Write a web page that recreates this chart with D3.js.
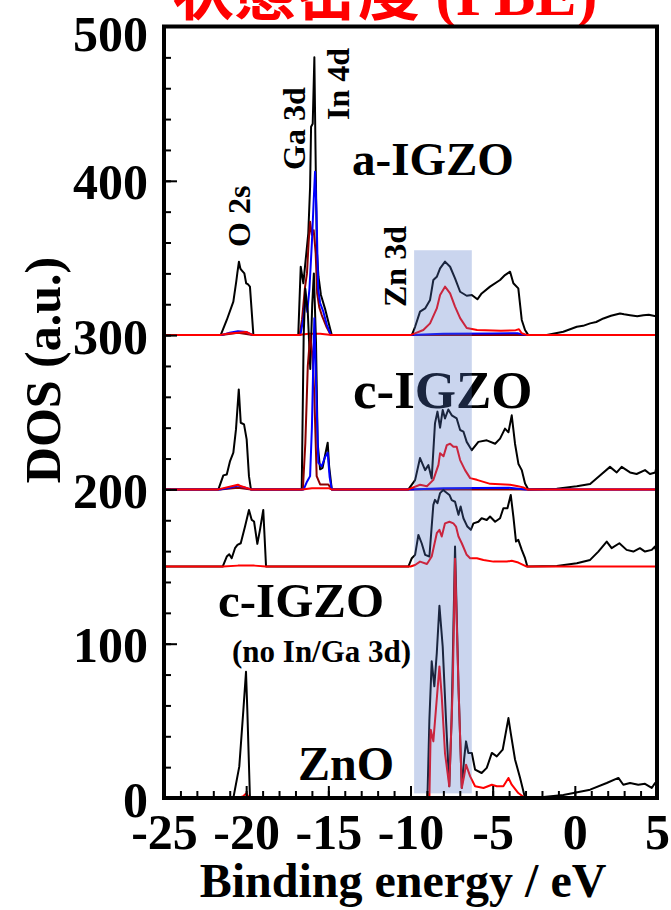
<!DOCTYPE html>
<html>
<head>
<meta charset="utf-8">
<script src="https://cdn.jsdelivr.net/npm/d3@7"></script>
<style>
  body { margin: 0; background: #fff; }
  text { font-family: "Liberation Serif", "Times New Roman", "Noto Sans CJK JP", serif; font-weight: bold; }
</style>
</head>
<body>
<svg id="chart" width="671" height="910"></svg>
<script>
// energy axis (eV) and DOS axis
const xDomain = [-25, 5]
const yDomain = [0, 500]
const xTickValues = [-25, -20, -15, -10, -5, 0, 5]
const yTickValues = [0, 100, 200, 300, 400, 500]

// vertical offset of every panel
const panelOffsets = { aIGZO: 300, cIGZO: 200, cIGZOnoD: 150, ZnO: 0 }

// shaded Zn 3d window
const bandE = [-9.78, -6.27]
const bandDOS = [3, 355]

// a-IGZO  [E, DOS]
const aIGZO_total = [[-25,0],[-21.55,0],[-21.18,9.8],[-20.78,21.7],[-20.6,35],[-20.54,40],[-20.44,47.6],[-20.35,43],[-20.27,42],[-20.11,40],[-20.0,33.6],[-19.9,33],[-19.77,31.4],[-19.56,0],
  [-16.83,0],[-16.68,44.3],[-16.52,33.6],[-16.38,48.7],[-16.22,66],[-16.11,96],[-16.05,135],[-15.95,137],[-15.85,180],[-15.78,120],[-15.7,55],[-15.6,38],[-15.45,26],[-15.2,17],[-15.0,8.6],[-14.79,0],
  [-9.92,0],[-9.72,5.4],[-9.42,15.2],[-9.11,17.3],[-8.81,22.8],[-8.61,35.7],[-8.40,37.8],[-8.20,43.2],[-7.90,47.6],[-7.59,44.3],[-7.29,36.8],[-6.98,28.1],[-6.58,25.5],[-6.27,26],[-5.93,23.2],[-5.67,27],[-5.16,31.4],[-4.55,35.7],[-4.25,38.9],[-3.94,41.1],[-3.74,33.6],[-3.44,30.3],[-3.23,9.8],[-3.03,3.3],[-2.83,0],
  [-1.71,0],[-0.70,2.2],[0.12,5.4],[0.5,6],[0.93,7.6],[1.3,8.5],[1.74,10.8],[2.2,12.5],[2.75,14],[3.0,13.5],[3.36,12.9],[3.8,12.2],[4.17,12.9],[4.5,13.2],[5,12]]
const aIGZO_Ga = [[-25,0],[-21.5,0],[-20.5,1.5],[-19.6,0],
  [-16.75,0],[-16.6,10],[-16.42,31],[-16.3,40],[-16.2,60],[-16.11,73.5],[-16.0,65],[-15.89,68],[-15.77,53],[-15.68,27],[-15.55,18],[-15.4,13],[-15.1,5],[-14.85,0],[5,0]]
const aIGZO_In = [[-25,0],[-21.5,0],[-21.0,1.5],[-20.5,2.5],[-20.0,2],[-19.6,0],
  [-16.7,0],[-16.5,12],[-16.38,25],[-16.28,15],[-16.15,30],[-16.0,60],[-15.9,85],[-15.81,105.8],[-15.72,80],[-15.62,30],[-15.5,20.8],[-15.3,15],[-15.1,7],[-14.85,0],
  [-10,0],[-8,0.8],[-5,1],[-3.5,1.2],[-3,0],[5,0]]
const aIGZO_Zn = [[-25,0],[-21.6,0],[-21.2,0.8],[-20.5,1.5],[-20.0,2],[-19.6,0],
  [-16.8,0],[-16.2,0.8],[-15.5,0.8],[-14.8,0],
  [-10.0,0],[-9.22,3.3],[-8.81,7.6],[-8.40,17.3],[-8.20,26],[-7.90,31.4],[-7.59,27],[-7.29,18.5],[-6.98,11],[-6.58,4.6],[-5.95,3.3],[-4.5,2.8],[-3.6,3.2],[-3.4,3.8],[-3.23,1.2],[-2.9,0],[5,0]]

// c-IGZO
const cIGZO_total = [[-25,0],[-21.69,0],[-21.39,9.1],[-21.18,9.7],[-20.98,18.4],[-20.78,23.8],[-20.62,38.9],[-20.45,64.8],[-20.33,43.2],[-20.13,42.1],[-19.97,32.4],[-19.83,8.6],[-19.71,0],
  [-16.62,0],[-16.5,100],[-16.4,130],[-16.25,115],[-16.1,78],[-15.98,120],[-15.88,140],[-15.75,95],[-15.65,30],[-15.5,13],[-15.35,14],[-15.2,22],[-15.04,30.3],[-14.95,15],[-14.79,0],
  [-10.13,0],[-9.72,6],[-9.42,20.3],[-9.11,12.5],[-8.91,15.7],[-8.71,7],[-8.51,42.8],[-8.36,50.4],[-8.2,40],[-8.04,51.4],[-7.9,46],[-7.7,51.8],[-7.49,48],[-7.19,46],[-6.98,38.5],[-6.78,37.5],[-6.58,30.8],[-6.27,25.4],[-5.87,30.8],[-5.36,31.8],[-4.85,29.6],[-4.55,32.9],[-4.25,39.4],[-4.04,37],[-3.84,48],[-3.64,29.6],[-3.43,16.4],[-3.23,12.5],[-3.03,3.8],[-2.83,0],
  [-1.1,0.5],[0.12,2],[0.93,3.5],[1.53,9],[2.14,14.6],[2.55,11],[2.85,14.6],[3.36,11],[3.76,10],[4.27,12.5],[4.57,10],[4.9,11],[5.0,17]]
const cIGZO_Ga = [[-25,0],[-21.6,0],[-20.5,1],[-19.7,0],
  [-16.55,0],[-16.4,30],[-16.25,80],[-16.1,100],[-15.95,85],[-15.85,60],[-15.71,8.6],[-15.5,3.2],[-15.0,3.2],[-14.8,0],[5,0]]
const cIGZO_In = [[-25,0],[-21.6,0],[-21,1],[-20.5,2.5],[-20.2,1.5],[-19.7,0],
  [-16.5,0],[-16.3,5],[-16.11,8.6],[-16.0,40],[-15.9,90],[-15.85,111],[-15.75,70],[-15.61,17.3],[-15.4,15],[-15.2,21],[-15.04,23.8],[-14.92,8],[-14.79,0],
  [-10,0],[-8,0.8],[-4,1],[-3,0],[5,0]]
const cIGZO_Zn = [[-25,0],[-21.7,0],[-20.5,3],[-20.3,2],[-19.7,0],
  [-16.6,0],[-16,0.8],[-15,0.8],[-14.8,0],
  [-10.13,0],[-9.42,3],[-9.0,2],[-8.61,6.2],[-8.30,15.9],[-8.2,23.5],[-7.99,21.5],[-7.79,28.7],[-7.59,29.6],[-7.39,27.6],[-7.19,27.6],[-6.98,19],[-6.68,12.5],[-6.37,7.3],[-5.96,6.2],[-5.15,3.6],[-3.94,3],[-3.53,2.2],[-3.13,1.3],[-2.9,0],[5,0]]

// c-IGZO without In/Ga 3d
const cIGZOnoD_total = [[-25,0],[-21.43,0],[-21.18,6.5],[-21.03,8],[-20.88,5.4],[-20.68,11.9],[-20.53,14],[-20.33,15.1],[-20.07,25.9],[-19.83,36.7],[-19.66,30.2],[-19.52,29.2],[-19.32,14.7],[-19.16,23.8],[-18.96,36.7],[-18.79,0],
  [-10.13,0],[-9.92,5.4],[-9.72,7.6],[-9.52,20.5],[-9.32,15.1],[-9.11,7.6],[-8.85,6.5],[-8.61,40],[-8.51,43.2],[-8.36,41],[-8.2,47.6],[-8.0,49.7],[-7.9,48.6],[-7.63,46.4],[-7.49,43],[-7.29,42],[-7.08,33.5],[-6.95,38.9],[-6.78,31.3],[-6.54,25.9],[-6.33,23.8],[-6.17,28],[-5.87,29],[-5.67,31.3],[-5.36,30.2],[-5.16,32.4],[-4.85,29],[-4.55,31.3],[-4.35,37.8],[-4.10,37.8],[-3.90,46.4],[-3.74,32.4],[-3.58,16.2],[-3.44,17.3],[-3.23,10.8],[-3.03,5.4],[-2.89,0],
  [-1.1,0.4],[0.12,2.2],[0.93,4.3],[1.43,9.7],[1.94,16.2],[2.24,11.9],[2.71,15.1],[3.15,10.8],[3.56,9.7],[3.96,11.9],[4.27,9.7],[4.68,10.8],[4.88,13],[5.0,7.6]]
const cIGZOnoD_Zn = [[-25,0],[-21.4,0],[-20.5,0.6],[-19.5,0.6],[-18.8,0],
  [-10.0,0],[-9.72,1],[-9.42,3.2],[-9.0,1.7],[-8.71,6.5],[-8.40,21.6],[-8.24,23.8],[-8.1,19.5],[-7.90,28],[-7.63,29],[-7.39,28],[-7.23,25.9],[-7.08,19.5],[-6.88,15.1],[-6.58,7.6],[-6.37,5.4],[-5.96,5.4],[-5.56,4.3],[-4.95,3.2],[-4.14,3.2],[-3.84,3.7],[-3.44,2.6],[-2.93,0],[5,0]]

// ZnO
const ZnO_total = [[-25,0],[-20.78,0],[-20.42,20.3],[-20.17,57],[-20.01,81.8],[-19.93,57],[-19.77,0],
  [-8.97,0],[-8.85,50.8],[-8.71,88.6],[-8.55,72.4],[-8.40,94],[-8.24,124.6],[-8.04,98],[-7.84,50.8],[-7.64,7.6],[-7.5,50.8],[-7.29,163],[-7.08,72.4],[-6.88,6.5],[-6.74,25],[-6.62,36.7],[-6.48,29.2],[-6.27,29.2],[-6.07,18.4],[-5.67,16.2],[-5.36,19.5],[-5.05,29.2],[-4.75,27],[-4.39,31.3],[-4.04,51.8],[-3.90,42],[-3.64,25],[-3.33,13],[-3.03,0],
  [-2.5,0],[-0.7,2],[0.93,5.4],[1.94,9.7],[2.65,13],[2.95,8.6],[3.36,9.7],[3.86,8.6],[4.27,9.2],[4.68,6.5],[4.88,9.7],[5.0,7]]
const ZnO_Zn = [[-25,0],[-20.6,0],[-20.2,1],[-20.0,3],[-19.8,0],
  [-8.85,0],[-8.77,44.3],[-8.61,36.7],[-8.24,85.3],[-8.10,66],[-7.90,29],[-7.64,7.6],[-7.43,72],[-7.29,155],[-7.08,72],[-6.88,6.5],[-6.74,14],[-6.62,21.6],[-6.37,14],[-6.07,7.6],[-5.56,6.5],[-5.05,8.6],[-4.75,7.6],[-4.35,7.6],[-4.04,13],[-3.84,8.6],[-3.44,3.2],[-3.03,0],[5,0]]

const colors = { total: "#000000", Ga: "#8b0000", In: "#0000ff", Zn: "#ff0000" }

const series = [
  { panel: "aIGZO", kind: "total", data: aIGZO_total },
  { panel: "aIGZO", kind: "Ga", data: aIGZO_Ga },
  { panel: "aIGZO", kind: "In", data: aIGZO_In },
  { panel: "aIGZO", kind: "Zn", data: aIGZO_Zn },
  { panel: "cIGZO", kind: "total", data: cIGZO_total },
  { panel: "cIGZO", kind: "Ga", data: cIGZO_Ga },
  { panel: "cIGZO", kind: "In", data: cIGZO_In },
  { panel: "cIGZO", kind: "Zn", data: cIGZO_Zn },
  { panel: "cIGZOnoD", kind: "total", data: cIGZOnoD_total },
  { panel: "cIGZOnoD", kind: "Zn", data: cIGZOnoD_Zn },
  { panel: "ZnO", kind: "total", data: ZnO_total },
  { panel: "ZnO", kind: "Zn", data: ZnO_Zn }
]

const svg = d3.select("#chart")
const plotL = 164, plotR = 657, plotT = 26.5, plotB = 798

const x = d3.scaleLinear().domain(xDomain).range([plotL, plotR])
const y = d3.scaleLinear().domain(yDomain).range([plotB, plotT])

svg.append("defs").append("clipPath").attr("id", "plotclip")
  .append("rect").attr("x", plotL).attr("y", plotT).attr("width", plotR - plotL).attr("height", plotB - plotT)

// title (cut off at the top of the picture)
svg.append("text")
  .attr("x", 172).attr("y", 15)
  .attr("font-size", 62).attr("fill", "#ff0000")
  .text("状態密度 (PBE)")

// curves
const curves = svg.append("g").attr("clip-path", "url(#plotclip)")
series.forEach(function(s) {
  const off = panelOffsets[s.panel]
  const line = d3.line()
    .x(function(d) { return x(d[0]) })
    .y(function(d) { return y(d[1] + off) })
  curves.append("path")
    .datum(s.data)
    .attr("d", line)
    .attr("fill", "none")
    .attr("stroke", colors[s.kind])
    .attr("stroke-width", 2)
    .attr("stroke-linejoin", "round")
})

// panel labels
const labels = svg.append("g")
labels.append("text").attr("x", 352).attr("y", 175).attr("font-size", 47).text("a-IGZO")
labels.append("text").attr("x", 353).attr("y", 408).attr("font-size", 53).text("c-IGZO")
labels.append("text").attr("x", 218).attr("y", 617).attr("font-size", 49).text("c-IGZO")
labels.append("text").attr("x", 232).attr("y", 662).attr("font-size", 31).text("(no In/Ga 3d)")
labels.append("text").attr("x", 298).attr("y", 780).attr("font-size", 48).text("ZnO")

// rotated orbital labels
const orb = [
  { t: "O 2s", x: 250, y: 247 },
  { t: "Ga 3d", x: 305, y: 170 },
  { t: "In 4d", x: 349, y: 120 },
  { t: "Zn 3d", x: 406, y: 307 }
]
labels.selectAll("text.orb").data(orb).join("text")
  .attr("class", "orb")
  .attr("font-size", 32)
  .attr("transform", function(d) { return "translate(" + d.x + "," + d.y + ") rotate(-90)" })
  .text(function(d) { return d.t })

// shaded window on top
svg.append("rect")
  .attr("x", x(bandE[0])).attr("width", x(bandE[1]) - x(bandE[0]))
  .attr("y", y(bandDOS[1])).attr("height", y(bandDOS[0]) - y(bandDOS[1]))
  .attr("fill", "rgb(83,121,201)").attr("fill-opacity", 0.31)

// axes
const yAxis = svg.append("g").attr("transform", "translate(" + plotL + ",0)")
  .call(d3.axisLeft(y).tickValues(yTickValues).tickSizeInner(-13).tickSizeOuter(0).tickPadding(16).tickFormat(d3.format("d")))
const yMinor = svg.append("g").attr("transform", "translate(" + plotL + ",0)")
  .call(d3.axisLeft(y).ticks(25).tickSizeInner(-7).tickSizeOuter(0).tickFormat(""))
const xAxis = svg.append("g").attr("transform", "translate(0," + plotB + ")")
  .call(d3.axisBottom(x).tickValues(xTickValues).tickSizeInner(-12).tickSizeOuter(0).tickPadding(15).tickFormat(function(d) { return String(d) }))
const xMinor = svg.append("g").attr("transform", "translate(0," + plotB + ")")
  .call(d3.axisBottom(x).ticks(30).tickSizeInner(-7).tickSizeOuter(0).tickFormat(""))

;[yAxis, yMinor, xAxis, xMinor].forEach(function(g) {
  g.select(".domain").remove()
  g.selectAll(".tick line").attr("stroke", "#000").attr("stroke-width", 2)
  g.selectAll(".tick text").attr("font-size", 50).attr("fill", "#000")
    .style("font-family", "'Liberation Serif', 'Times New Roman', serif").style("font-weight", "bold")
})
// top label sits a little lower, as in the original
yAxis.selectAll(".tick text").attr("dy", function(d) { return d === 500 ? "0.48em" : "0.36em" })

// frame
svg.append("rect")
  .attr("x", plotL).attr("y", plotT).attr("width", plotR - plotL).attr("height", plotB - plotT)
  .attr("fill", "none").attr("stroke", "#000").attr("stroke-width", 4)

// axis titles
svg.append("text")
  .attr("x", 403).attr("y", 897).attr("text-anchor", "middle").attr("font-size", 48)
  .text("Binding energy / eV")
svg.append("text")
  .attr("transform", "translate(60,370) rotate(-90)")
  .attr("text-anchor", "middle").attr("font-size", 50)
  .text("DOS (a.u.)")
</script>
</body>
</html>
